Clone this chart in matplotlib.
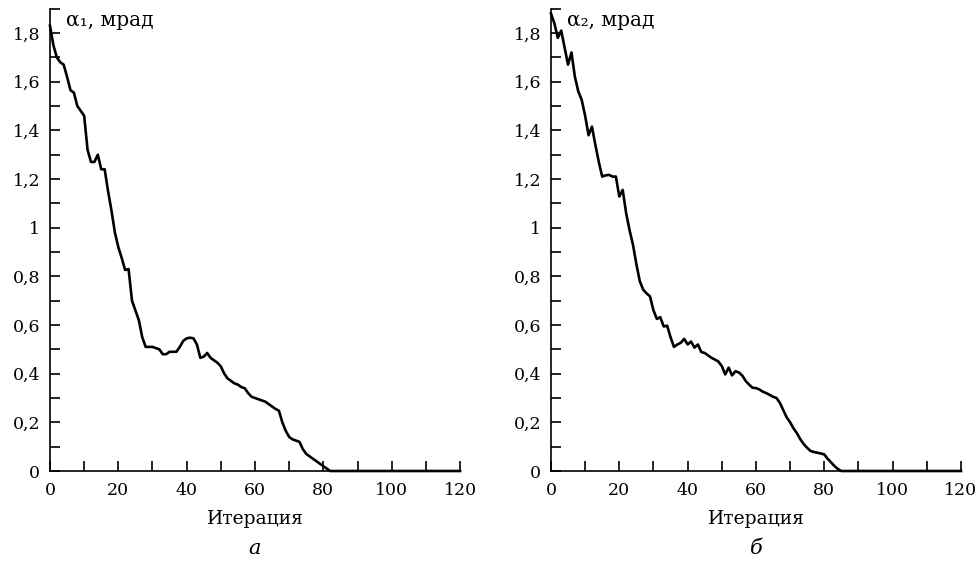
import numpy as np
import matplotlib
matplotlib.use("Agg")
import matplotlib.pyplot as plt
from matplotlib.ticker import MultipleLocator, FuncFormatter

plt.rcParams['font.family'] = ['DejaVu Serif']

# alpha_1 (panel a), one value per iteration
alpha1 = [1.83, 1.75, 1.70, 1.68, 1.67, 1.62, 1.565, 1.555, 1.50, 1.48,
          1.46, 1.32, 1.27, 1.27, 1.30, 1.24, 1.24, 1.15, 1.07, 0.98,
          0.92, 0.875, 0.826, 0.83, 0.70, 0.66, 0.62, 0.55, 0.51, 0.51,
          0.51, 0.505, 0.50, 0.48, 0.48, 0.49, 0.49, 0.49, 0.51, 0.535,
          0.545, 0.548, 0.545, 0.52, 0.465, 0.47, 0.485, 0.465, 0.455, 0.445,
          0.43, 0.40, 0.38, 0.37, 0.36, 0.355, 0.345, 0.34, 0.32, 0.305,
          0.30, 0.295, 0.29, 0.285, 0.275, 0.265, 0.255, 0.248, 0.20, 0.165,
          0.14, 0.13, 0.125, 0.12, 0.09, 0.07, 0.06, 0.05, 0.04, 0.03,
          0.02, 0.01, 0.0]

# alpha_2 (panel b)
alpha2 = [1.88, 1.84, 1.78, 1.81, 1.74, 1.67, 1.72, 1.62, 1.56, 1.525,
          1.46, 1.38, 1.415, 1.34, 1.27, 1.21, 1.215, 1.217, 1.21, 1.21,
          1.128, 1.155, 1.06, 0.99, 0.93, 0.85, 0.78, 0.745, 0.73, 0.717,
          0.66, 0.625, 0.632, 0.594, 0.597, 0.55, 0.51, 0.52, 0.527, 0.543,
          0.52, 0.532, 0.507, 0.52, 0.489, 0.485, 0.475, 0.465, 0.458, 0.45,
          0.431, 0.397, 0.425, 0.393, 0.41, 0.405, 0.392, 0.37, 0.355, 0.342,
          0.341, 0.335, 0.326, 0.32, 0.313, 0.305, 0.30, 0.28, 0.25, 0.22,
          0.20, 0.175, 0.155, 0.13, 0.11, 0.095, 0.082, 0.078, 0.075, 0.072,
          0.068, 0.05, 0.035, 0.02, 0.008, 0.0]

n_iter = 120
ylabels = ['α₁, мрад', 'α₂, мрад']
panel_letters = ['а', 'б']
xlabel = 'Итерация'


def pad_zeros(vals):
    return np.array(vals + [0.0] * (n_iter + 1 - len(vals)))


def fmt_y(v, pos):
    s = ('%.1f' % v).rstrip('0').rstrip('.')
    return s.replace('.', ',')


fig = plt.figure(figsize=(9.8, 5.67), dpi=100)
axes = [fig.add_axes([0.051, 0.1693, 0.4184, 0.8154]),
        fig.add_axes([0.5622, 0.1693, 0.4184, 0.8154])]

for ax, data, yl, letter in zip(axes, [alpha1, alpha2], ylabels, panel_letters):
    y = pad_zeros(data)
    x = np.arange(len(y))
    ax.plot(x, y, color='black', lw=1.9, clip_on=False)
    ax.set_xlim(0, 120)
    ax.set_ylim(0, 1.9)
    for s in ['top', 'right']:
        ax.spines[s].set_visible(False)
    for s in ['left', 'bottom']:
        ax.spines[s].set_linewidth(1.2)
    ax.xaxis.set_major_locator(MultipleLocator(20))
    ax.xaxis.set_minor_locator(MultipleLocator(10))
    ax.yaxis.set_major_locator(MultipleLocator(0.2))
    ax.yaxis.set_minor_locator(MultipleLocator(0.1))
    ax.yaxis.set_major_formatter(FuncFormatter(fmt_y))
    ax.tick_params(which='both', direction='in', length=7, width=1.2,
                   labelsize=12.5)
    ax.tick_params(axis='y', pad=7)
    ax.tick_params(axis='x', pad=8)
    ax.set_xlabel(xlabel, fontsize=13.5, labelpad=8)
    ax.text(0.04, 0.995, yl, transform=ax.transAxes, fontsize=14.5,
            va='top', ha='left')
    ax.text(0.5, -0.167, letter, transform=ax.transAxes, fontsize=15,
            style='italic', ha='center', va='center')

fig.savefig('out.png', dpi=100)
